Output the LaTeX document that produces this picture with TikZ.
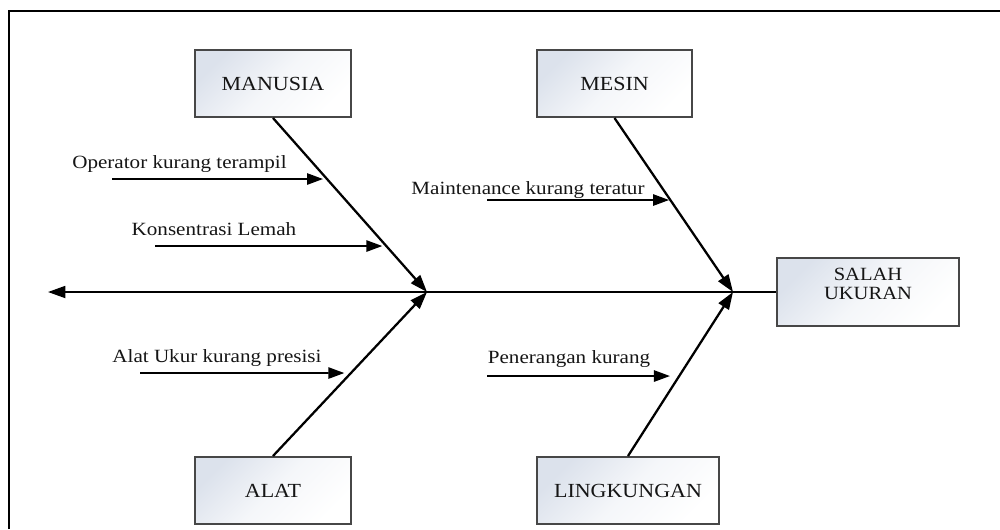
\documentclass[tikz,border=0pt]{standalone}
\usepackage{fontspec}
\setmainfont{Liberation Serif}
\newfontfamily\boxfont[FakeStretch=1.1]{Liberation Serif}
\newfontfamily\causefont[FakeStretch=1.13]{Liberation Serif}
\usetikzlibrary{arrows.meta,calc}
\definecolor{boxtint}{HTML}{DCE2EC}
\definecolor{boxline}{HTML}{474747}
\definecolor{inktext}{HTML}{151515}

\begin{document}
\begin{tikzpicture}[x=0.75pt,y=-0.75pt,
  catbox/.style={draw=boxline, line width=1.5pt, left color=boxtint, right color=white,
    middle color=white!70!boxtint, shading angle=45, minimum height=50.25pt, inner sep=0pt,
    font=\boxfont\fontsize{15}{17}\selectfont, text=inktext},
  cause/.style={font=\causefont\fontsize{14}{16}\selectfont, text=inktext,
    anchor=base, inner sep=0pt},
  bone/.style={line width=1.7pt, -{Triangle[length=13pt,width=9pt]}},
  subarrow/.style={line width=1.3pt, shorten >=3pt, -{Triangle[length=12pt,width=8.5pt]}},
  spine/.style={line width=1.3pt, -{Triangle[length=13pt,width=9pt]}}
]
% canvas
\fill[white] (0,0) rectangle (1000,529);
\useasboundingbox (0,0) rectangle (1000,529);
\draw[line width=1.6pt] (9,529) -- (9,11) -- (1000,11);

% category boxes and effect box
\node[catbox, minimum width=117pt]    (manusia)    at (273,83.5)  {MANUSIA};
\node[catbox, minimum width=116.25pt] (mesin)      at (614.5,83.5) {MESIN};
\node[catbox, minimum width=117pt]    (alat)       at (273,490.5) {ALAT};
\node[catbox, minimum width=136.5pt]  (lingkungan) at (628,490.5) {LINGKUNGAN};
\node[catbox, minimum width=136.5pt, minimum height=51pt] (effect) at (868,292) {};
\node[font=\boxfont\fontsize{14}{14}\selectfont, text=inktext, align=center,
  anchor=north, inner sep=0pt] (effectlabel) at (868,268) {SALAH\\UKURAN};

% spine and junctions
\coordinate (tail) at (48,292);
\coordinate (j1) at (427,292);
\coordinate (j2) at (733,292);
\draw[spine] (effect.west) -- (tail);

% main bones
\coordinate (b1) at (manusia.south);
\coordinate (b2) at (alat.north);
\coordinate (b3) at (mesin.south);
\coordinate (b4) at (lingkungan.north);
\draw[bone] (b1) -- (j1);
\draw[bone] (b2) -- (j1);
\draw[bone] (b3) -- (j2);
\draw[bone] (b4) -- (j2);

% sub-cause arrows
\coordinate (s1) at (112,179); \coordinate (e1) at (700,179);
\coordinate (s2) at (155,246); \coordinate (e2) at (700,246);
\coordinate (s3) at (487,200); \coordinate (e3) at (900,200);
\coordinate (s4) at (140,373); \coordinate (e4) at (700,373);
\coordinate (s5) at (487,376); \coordinate (e5) at (900,376);
\draw[subarrow] (s1) -- (intersection of s1--e1 and b1--j1);
\draw[subarrow] (s2) -- (intersection of s2--e2 and b1--j1);
\draw[subarrow, shorten >=1pt] (s3) -- (intersection of s3--e3 and b3--j2);
\draw[subarrow, shorten >=5pt] (s4) -- (intersection of s4--e4 and b2--j1);
\draw[subarrow, shorten >=7pt] (s5) -- (intersection of s5--e5 and b4--j2);

% sub-cause labels
\node[cause] (c1) at (179.5,168) {Operator kurang terampil};
\node[cause] (c2) at (214,235)   {Konsentrasi Lemah};
\node[cause] (c3) at (528,194)   {Maintenance kurang teratur};
\node[cause] (c4) at (217,362)   {Alat Ukur kurang presisi};
\node[cause] (c5) at (569,363)   {Penerangan kurang};
\end{tikzpicture}
\end{document}
